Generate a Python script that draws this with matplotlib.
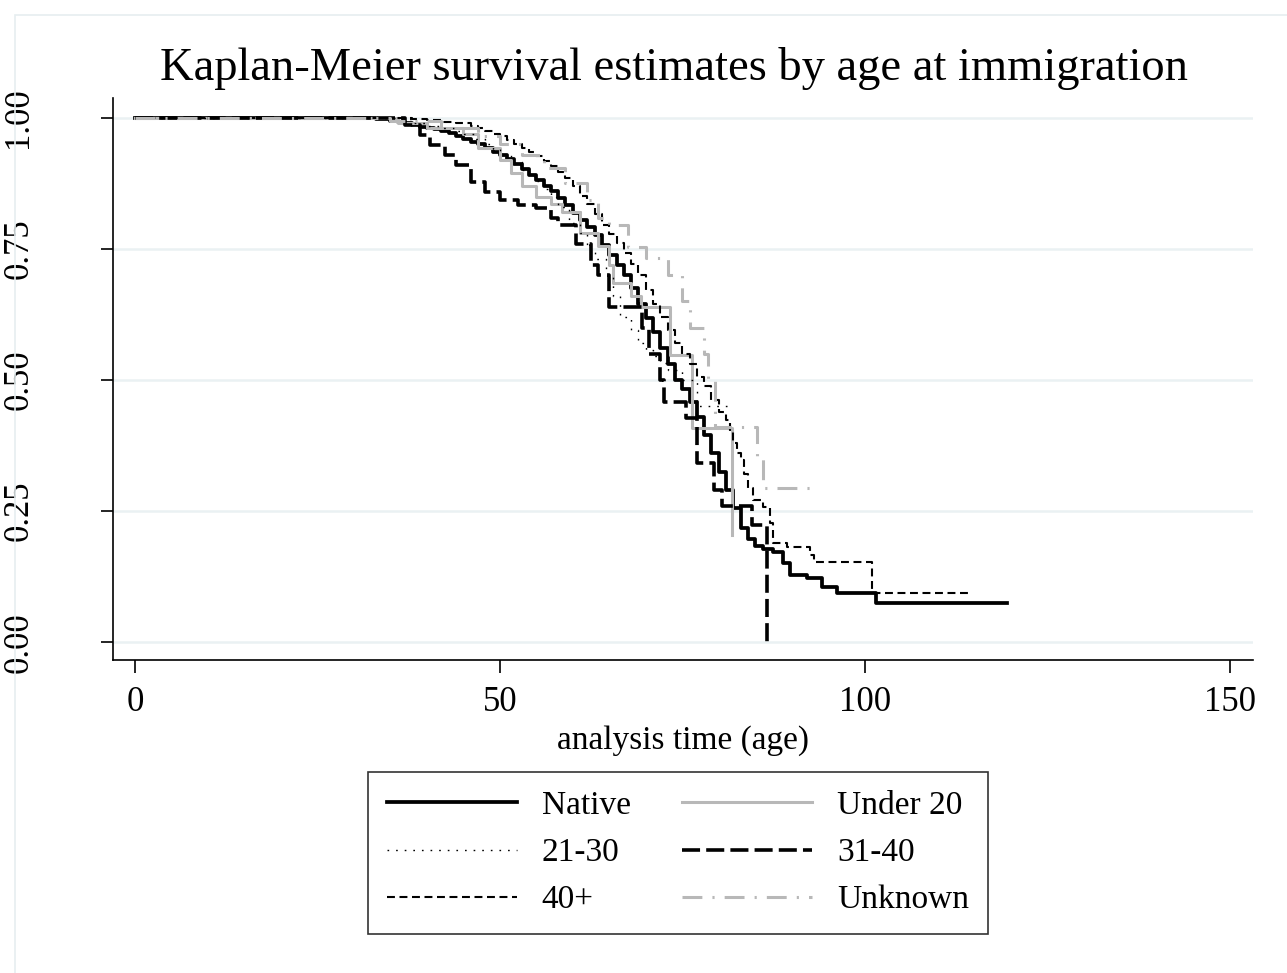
import matplotlib
matplotlib.use('Agg')
import matplotlib.pyplot as plt
from matplotlib.patches import Rectangle

plt.rcParams['font.family'] = ['Liberation Serif', 'DejaVu Serif']

# Kaplan-Meier step points (time, survival)
native_t = [0, 30, 33, 35, 36, 37, 38, 39, 40, 41, 42, 43, 44, 45, 46, 47, 48, 49, 50, 51, 52, 53, 54,
            55, 56, 57, 58, 59, 60, 61, 62, 63, 64, 65, 66, 67, 68, 69, 70, 71, 72, 73, 74, 75, 76,
            77, 78, 79, 80, 81, 82, 83, 84, 85, 86, 87.4, 88.8, 89.7, 92.1, 94.2, 96.2, 101.6, 119.5]
native_s = [1.0, 1.0, 0.998, 0.995, 0.992, 0.99, 0.987, 0.983, 0.98, 0.978, 0.975, 0.971, 0.966, 0.96,
            0.955, 0.95, 0.943, 0.935, 0.929, 0.921, 0.912, 0.903, 0.892, 0.882, 0.871, 0.86, 0.847,
            0.833, 0.819, 0.806, 0.792, 0.776, 0.757, 0.738, 0.72, 0.70, 0.675, 0.645, 0.618, 0.592,
            0.562, 0.53, 0.50, 0.482, 0.458, 0.43, 0.395, 0.36, 0.325, 0.29, 0.255, 0.218, 0.196,
            0.183, 0.178, 0.172, 0.151, 0.128, 0.122, 0.105, 0.094, 0.074, 0.074]

u20_t = [0, 36, 40, 45, 47, 50, 51.5, 53, 55, 57, 58.5, 61, 63.5, 65, 65.5, 68, 69.3, 73.3, 76.4, 81.8]
u20_s = [1.0, 0.99, 0.98, 0.97, 0.943, 0.92, 0.895, 0.87, 0.85, 0.835, 0.82, 0.78, 0.755, 0.72,
         0.685, 0.66, 0.639, 0.548, 0.408, 0.204]

g2130_t = [0, 36, 38, 40, 42, 44, 45, 46.5, 48, 49, 50, 51.5, 53, 54, 55, 56, 57, 58, 59.5, 61, 62,
           63, 64.5, 65.5, 66.5, 68, 69, 70, 71, 72, 73, 75, 77, 81.5]
g2130_s = [1.0, 0.997, 0.99, 0.985, 0.98, 0.975, 0.97, 0.96, 0.95, 0.94, 0.93, 0.915, 0.90, 0.89,
           0.88, 0.865, 0.85, 0.83, 0.80, 0.78, 0.75, 0.73, 0.70, 0.66, 0.62, 0.595, 0.57, 0.557,
           0.545, 0.532, 0.52, 0.50, 0.45, 0.45]

g3140_t = [0, 37, 39, 40.5, 42.5, 44, 46, 48, 50, 52.5, 55, 57, 58, 60.5, 62.5, 63.5, 65, 69.5, 70.5,
           72, 72.5, 75.5, 77, 79.3, 80.5, 84.5, 86.6]
g3140_s = [1.0, 0.987, 0.968, 0.948, 0.929, 0.91, 0.878, 0.859, 0.843, 0.834, 0.828, 0.81, 0.796,
           0.76, 0.72, 0.70, 0.639, 0.60, 0.55, 0.50, 0.458, 0.427, 0.342, 0.29, 0.26, 0.223, 0.0]

g40_t = [0, 36, 38, 40, 42, 44, 46, 47, 48, 49, 50, 51, 52, 53, 54, 55, 56, 57, 58, 59, 60, 61, 62,
         63, 64, 65, 66, 67, 68, 69, 70, 71, 72, 73, 74, 75, 76, 77, 78, 79, 80, 81, 81.5, 82, 82.5,
         83, 83.5, 84, 84.7, 86, 87, 87.4, 89.3, 92.5, 93, 101, 114.4]
g40_s = [1.0, 1.0, 0.998, 0.996, 0.993, 0.99, 0.985, 0.98, 0.975, 0.97, 0.965, 0.958, 0.95, 0.943,
         0.935, 0.928, 0.918, 0.908, 0.897, 0.885, 0.87, 0.852, 0.835, 0.817, 0.795, 0.778, 0.762,
         0.742, 0.722, 0.70, 0.672, 0.645, 0.62, 0.595, 0.57, 0.55, 0.53, 0.506, 0.488, 0.462, 0.44,
         0.424, 0.40, 0.38, 0.36, 0.347, 0.32, 0.295, 0.271, 0.258, 0.227, 0.189, 0.181, 0.166,
         0.153, 0.094, 0.094]

unk_t = [0, 35, 42, 47, 50, 53, 56, 59, 62, 63.5, 65, 67.5, 70, 73, 75, 76, 78, 78.5, 79.5, 85.3, 86, 93.8]
unk_s = [1.0, 0.995, 0.98, 0.965, 0.95, 0.93, 0.905, 0.876, 0.844, 0.81, 0.796, 0.754, 0.733, 0.70,
         0.65, 0.60, 0.55, 0.50, 0.41, 0.35, 0.294, 0.294]

x_ticks = [0, 50, 100, 150]
y_ticks = [0.0, 0.25, 0.5, 0.75, 1.0]
y_labels = ['0.00', '0.25', '0.50', '0.75', '1.00']

gray = '#b8b8b8'
styles = [
    ('Native', native_t, native_s, dict(color='black', lw=2.7, ls='-')),
    ('Under 20', u20_t, u20_s, dict(color=gray, lw=2.2, ls='-')),
    ('21-30', g2130_t, g2130_s, dict(color='black', lw=1.0, ls=(0, (1.2, 5)))),
    ('31-40', g3140_t, g3140_s, dict(color='black', lw=2.6, ls=(0, (5, 1.7)))),
    ('40+', g40_t, g40_s, dict(color='black', lw=1.5, ls=(0, (3.8, 2.2)))),
    ('Unknown', unk_t, unk_s, dict(color=gray, lw=2.2, ls=(0, (6.5, 3.3, 0.7, 3.3)))),
]

fig = plt.figure(figsize=(12.87, 9.73), dpi=100)
fig.patches.append(Rectangle((15 / 1287, -0.1), 1.2, 1 - 15 / 973 + 0.1, transform=fig.transFigure,
                             fill=False, edgecolor='#e6eef0', lw=1.2))
ax = fig.add_axes([113 / 1287, 1 - 660 / 973, (1253 - 113) / 1287, (660 - 98) / 973])

for y in y_ticks:
    ax.axhline(y, color='#eaf1f3', lw=1.8, zorder=0)

handles = {}
for name, t, s, st in styles:
    ln, = ax.step(t, s, where='post', **st)
    handles[name] = ln

ax.set_xlim(-3.0, 153.2)
ax.set_ylim(-0.034, 1.038)
ax.set_xticks(x_ticks)
ax.set_yticks(y_ticks)
ax.set_yticklabels(y_labels, rotation=90, va='center')
ax.tick_params(axis='both', direction='out', length=9, width=1.2, labelsize=25)
ax.tick_params(axis='y', pad=47)
ax.tick_params(axis='x', pad=10)
for side in ['top', 'right']:
    ax.spines[side].set_visible(False)
for side in ['left', 'bottom']:
    ax.spines[side].set_linewidth(1.2)

ax.set_xlabel('analysis time (age)', fontsize=24, labelpad=4)
fig.text(0.524, 1 - 80 / 973, 'Kaplan-Meier survival estimates by age at immigration',
         ha='center', va='baseline', fontsize=33.5)

order = ['Native', '21-30', '40+', 'Under 20', '31-40', 'Unknown']
leg = fig.legend([handles[k] for k in order], order, ncol=2, loc='center',
                 bbox_to_anchor=(678 / 1287, 1 - 853 / 973), fontsize=24, frameon=True,
                 fancybox=False, edgecolor='black', handlelength=3.9, handletextpad=0.75,
                 columnspacing=1.55, labelspacing=0.5, borderpad=0.55)
leg.get_frame().set_linewidth(1.2)

fig.savefig('out.png', dpi=100, facecolor='white')
